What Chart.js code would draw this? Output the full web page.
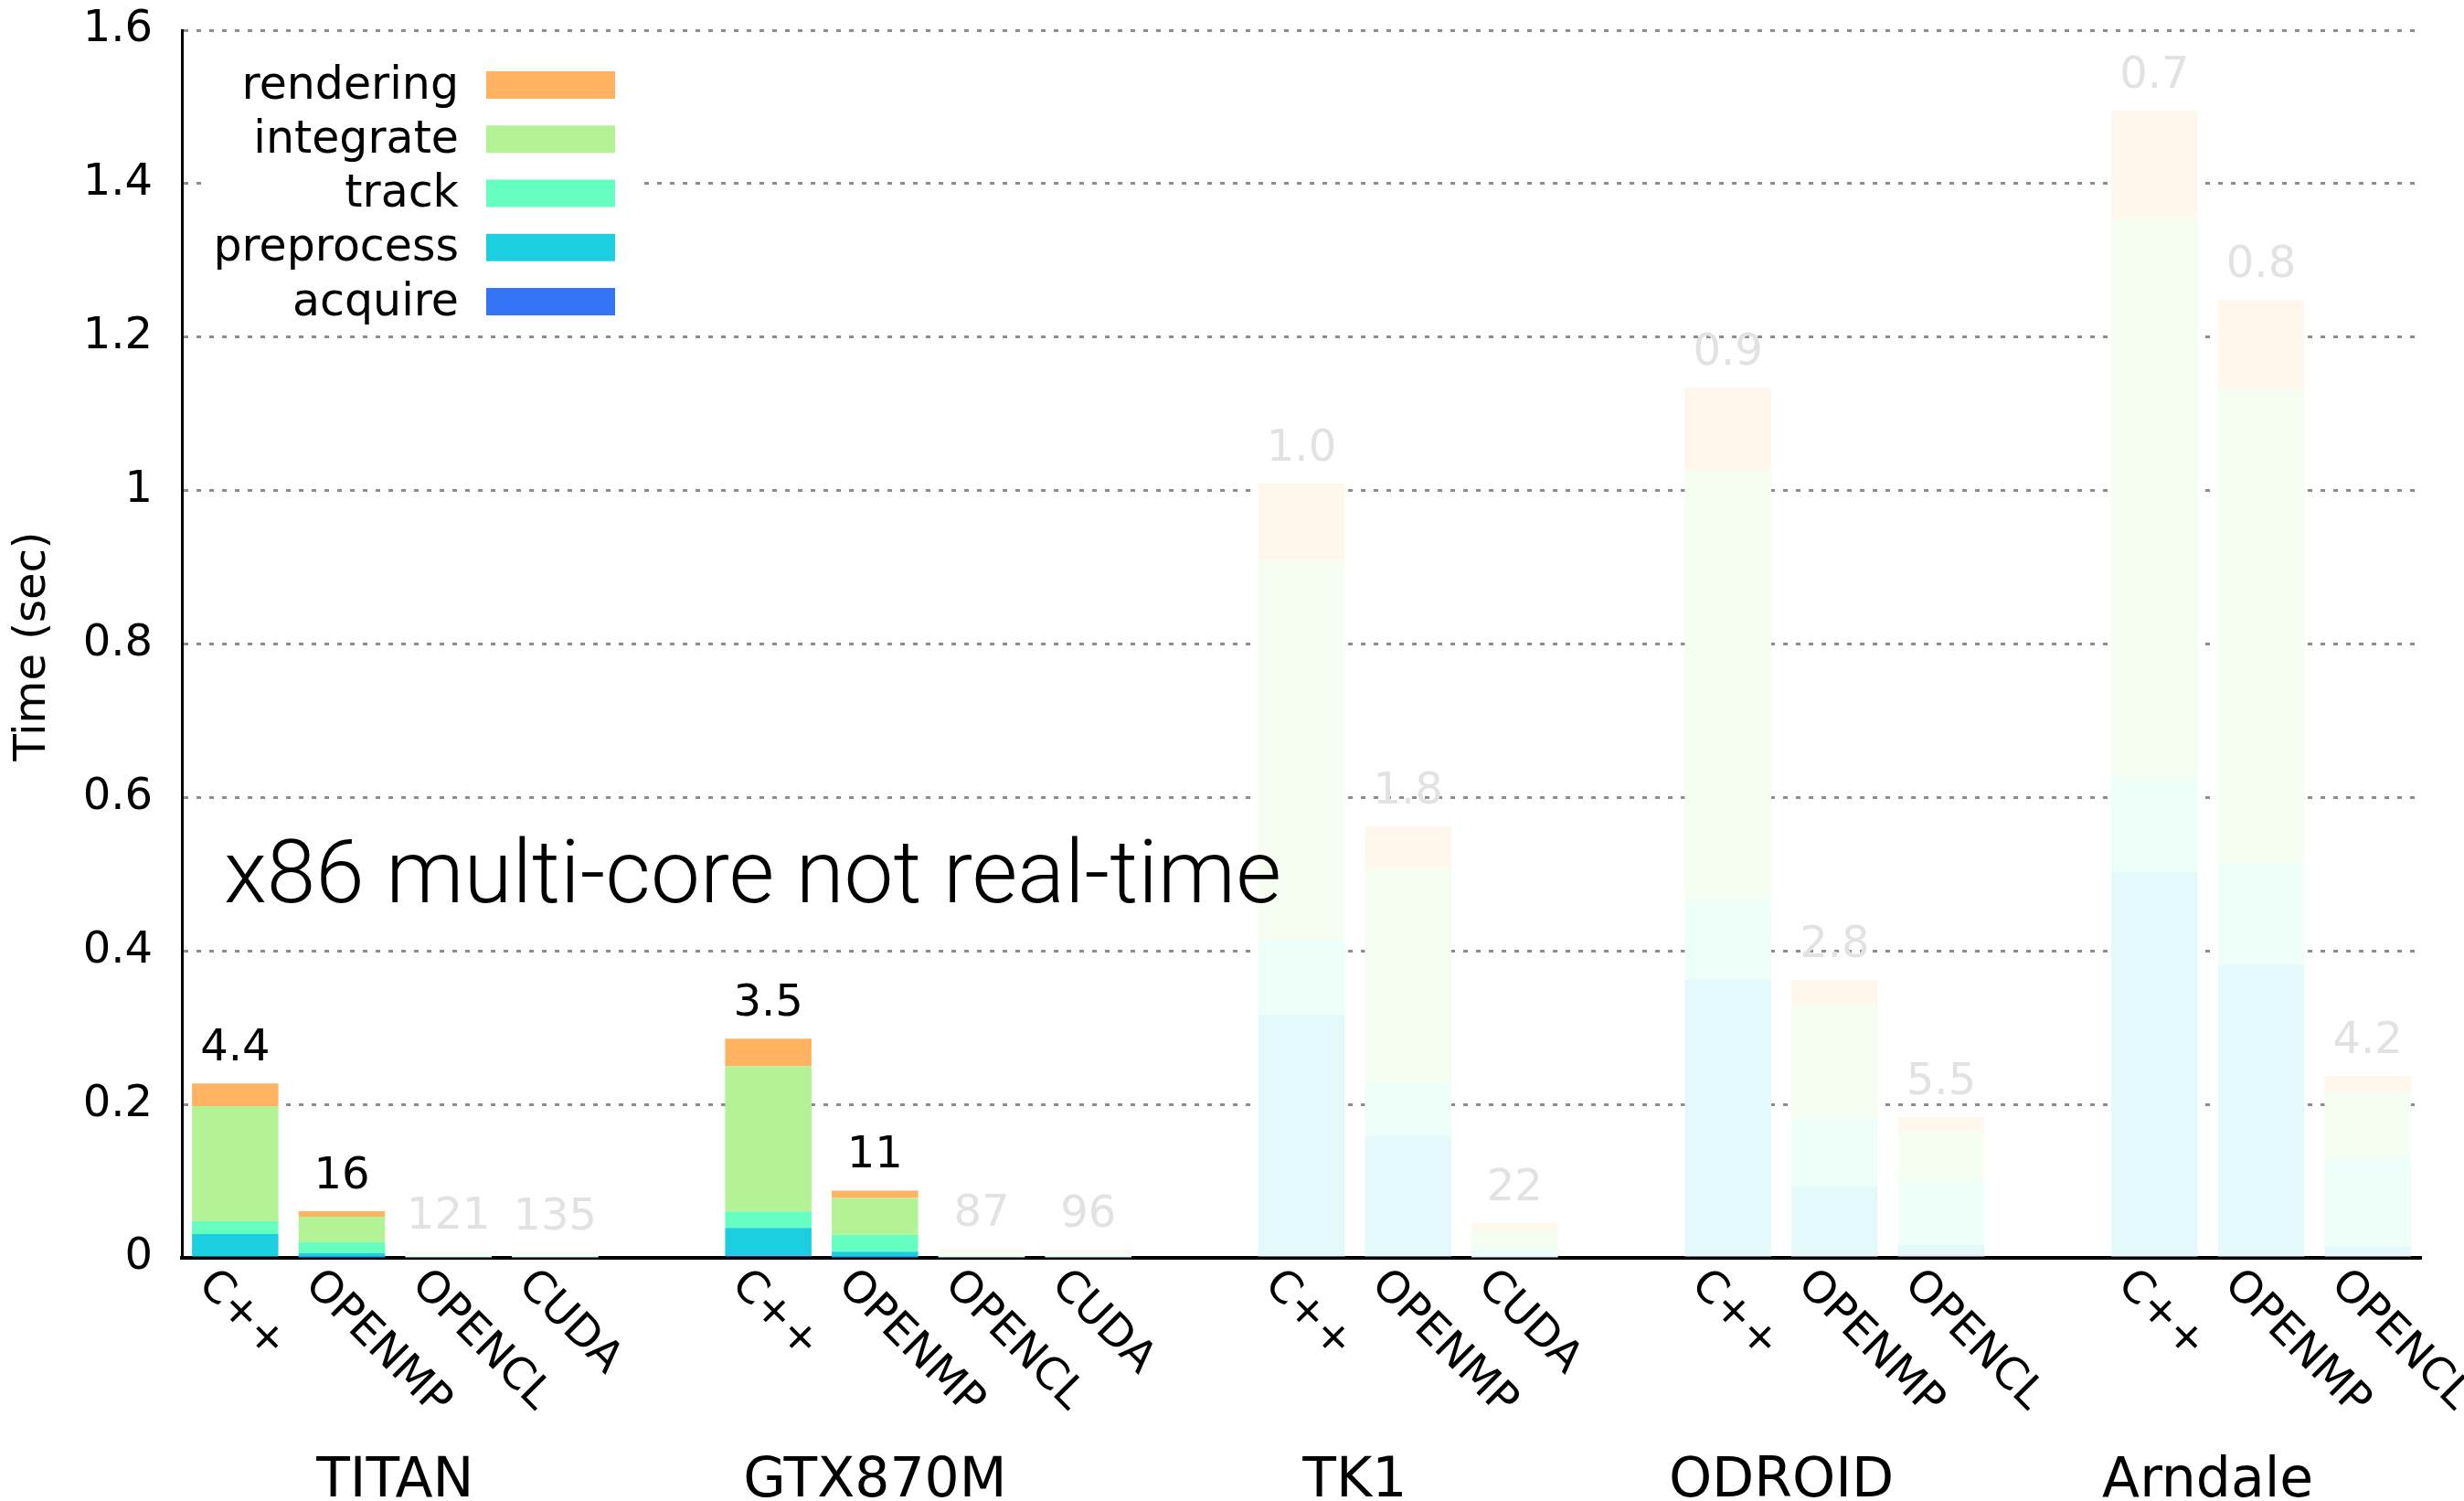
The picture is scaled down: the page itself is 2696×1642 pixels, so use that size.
<!DOCTYPE html>
<html>
<head>
<meta charset="utf-8">
<script src="https://cdn.jsdelivr.net/npm/chart.js@4.4.1/dist/chart.umd.min.js"></script>
<style>
  html, body { margin: 0; padding: 0; background: #fff; }
</style>
</head>
<body>
<canvas id="myChart" width="2696" height="1642"></canvas>
<script>
var groups = ['TITAN', 'GTX870M', 'TK1', 'ODROID', 'Arndale'];
// where each group title sits, in slot units of the x axis
var groupAt = [1.5, 6, 10.5, 14.5, 18.5];
// '' = empty slot between two groups
var slots = ['C++', 'OPENMP', 'OPENCL', 'CUDA', '',
             'C++', 'OPENMP', 'OPENCL', 'CUDA', '',
             'C++', 'OPENMP', 'CUDA', '',
             'C++', 'OPENMP', 'OPENCL', '',
             'C++', 'OPENMP', 'OPENCL'];
// frames per second written above each bar
var fpsLabels = ['4.4', '16', '121', '135', '',
                 '3.5', '11', '87', '96', '',
                 '1.0', '1.8', '22', '',
                 '0.9', '2.8', '5.5', '',
                 '0.7', '0.8', '4.2'];
var strong = [1, 1, 0, 0, 0,
              1, 1, 0, 0, 0,
              0, 0, 0, 0,
              0, 0, 0, 0,
              0, 0, 0];

// seconds per frame, per stage
var acquire    = [0, 0.001, 0, 0, null,   0.003, 0.001, 0, 0, null,       0.002, 0.002, 0.001, null,  0.003, 0.003, 0.005, null,  0.003, 0.003, 0.003];
var preprocess = [0.031, 0.005, 0.001, 0.001, null, 0.036, 0.007, 0.001, 0.001, null, 0.315, 0.157, 0.002, null, 0.360, 0.089, 0.012, null, 0.500, 0.379, 0.012];
var track      = [0.0167, 0.0143, 0.0035, 0.0025, null, 0.0215, 0.022, 0.004, 0.003, null, 0.098, 0.070, 0.012, null, 0.106, 0.091, 0.082, null, 0.123, 0.133, 0.116];
var integrate  = [0.150, 0.0333, 0.002, 0.002, null, 0.189, 0.048, 0.004, 0.004, null, 0.494, 0.278, 0.021, null, 0.558, 0.148, 0.066, null, 0.729, 0.618, 0.086];
var rendering  = [0.0295, 0.0072, 0.0018, 0.002, null, 0.036, 0.0096, 0.0025, 0.0025, null, 0.100, 0.055, 0.009, null, 0.107, 0.031, 0.0185, null, 0.140, 0.115, 0.020];

var yTicks = ['0', '0.2', '0.4', '0.6', '0.8', '1', '1.2', '1.4', '1.6'];

var series = [
  {label: 'acquire',    data: acquire,    color: '#3674f6'},
  {label: 'preprocess', data: preprocess, color: '#1bcfe0'},
  {label: 'track',      data: track,      color: '#66ffc2'},
  {label: 'integrate',  data: integrate,  color: '#b3f396'},
  {label: 'rendering',  data: rendering,  color: '#ffb361'}
];

function fade(hex) {
  var a = 0.12;
  var r = parseInt(hex.substr(1, 2), 16), g = parseInt(hex.substr(3, 2), 16), b = parseInt(hex.substr(5, 2), 16);
  return 'rgb(' + Math.round(255 - (255 - r) * a) + ',' + Math.round(255 - (255 - g) * a) + ',' + Math.round(255 - (255 - b) * a) + ')';
}

var FONT = '"DejaVu Sans"';
Chart.defaults.font.family = FONT;
Chart.defaults.font.size = 48;
Chart.defaults.color = '#000';

var decor = {
  id: 'decor',
  afterDatasetsDraw: function(chart) {
    var ctx = chart.ctx, x = chart.scales.x, y = chart.scales.y;
    ctx.save();
    ctx.font = '48px ' + FONT;
    ctx.textAlign = 'center';
    ctx.textBaseline = 'alphabetic';
    for (var i = 0; i < slots.length; i++) {
      if (!slots[i]) continue;
      var total = 0;
      series.forEach(function(s) { total += s.data[i] || 0; });
      ctx.fillStyle = strong[i] ? '#000' : '#e2e2e2';
      ctx.fillText(fpsLabels[i], x.getPixelForValue(i), y.getPixelForValue(total) - 25);
    }
    ctx.restore();
  },
  afterDraw: function(chart) {
    var ctx = chart.ctx, x = chart.scales.x, area = chart.chartArea;
    ctx.save();

    // rotated tick labels
    ctx.font = '48px ' + FONT;
    ctx.fillStyle = '#000';
    ctx.textAlign = 'left';
    ctx.textBaseline = 'alphabetic';
    for (var i = 0; i < slots.length; i++) {
      if (!slots[i]) continue;
      ctx.save();
      ctx.translate(x.getPixelForValue(i) - 42, area.bottom + 31);
      ctx.rotate(Math.PI / 4);
      ctx.fillText(slots[i], 0, 0);
      ctx.restore();
    }

    // group names
    ctx.font = '60px ' + FONT;
    ctx.textAlign = 'center';
    groups.forEach(function(name, k) {
      ctx.fillText(name, x.getPixelForValue(groupAt[k]), 1637);
    });

    // y title
    ctx.save();
    ctx.font = '48px ' + FONT;
    ctx.translate(37, 707);
    ctx.rotate(-Math.PI / 2);
    ctx.textAlign = 'center';
    ctx.textBaseline = 'middle';
    ctx.fillText('Time (sec)', 0, 0);
    ctx.restore();

    // legend
    ctx.fillStyle = '#fff';
    ctx.fillRect(220, 50, 481, 305);
    ctx.font = '49px ' + FONT;
    ctx.textAlign = 'right';
    ctx.textBaseline = 'middle';
    series.slice().reverse().forEach(function(s, k) {
      var cy = 93 + k * 59.25;
      ctx.fillStyle = s.color;
      ctx.fillRect(532, cy - 15, 141, 30);
      ctx.fillStyle = '#000';
      ctx.fillText(s.label, 502, cy + 2);
    });

    // annotation
    var note = 'x86 multi-core not real-time';
    ctx.font = '300 97px Roboto';
    ctx.textAlign = 'left';
    ctx.textBaseline = 'alphabetic';
    var w = ctx.measureText(note).width;
    ctx.translate(245, 987);
    ctx.scale(1157 / w, 1);
    ctx.fillText(note, 0, 0);

    ctx.restore();
  }
};

var ctx = document.getElementById('myChart').getContext('2d');
var myChart = new Chart(ctx, {
  type: 'bar',
  data: {
    labels: slots,
    datasets: series.map(function(s) {
      return {
        label: s.label,
        data: s.data,
        backgroundColor: s.data.map(function(v, i) { return strong[i] ? s.color : fade(s.color); }),
        borderWidth: 0,
        barPercentage: 0.81,
        categoryPercentage: 1.0
      };
    })
  },
  options: {
    responsive: false,
    devicePixelRatio: 1,
    animation: false,
    layout: { padding: { top: 33, right: 47, left: 0, bottom: 0 } },
    plugins: { legend: { display: false }, tooltip: { enabled: false } },
    scales: {
      x: {
        stacked: true,
        z: 1,
        grid: { display: false },
        ticks: { display: false },
        border: { display: true, color: '#000', width: 4 },
        afterFit: function(s) { s.height = 266; s.paddingLeft = 0; s.paddingRight = 0; }
      },
      y: {
        stacked: true,
        min: 0,
        max: 1.6,
        ticks: {
          stepSize: 0.2,
          padding: 32,
          color: '#000',
          font: { size: 48 },
          callback: function(v, i) { return yTicks[i]; }
        },
        grid: { color: '#8c8c8c', lineWidth: 3, drawTicks: false },
        border: { display: true, color: '#000', width: 3, dash: [5, 9] },
        afterFit: function(s) { s.width = 199; s.paddingTop = 0; s.paddingBottom = 0; }
      }
    }
  },
  plugins: [decor]
});
</script>
</body>
</html>
